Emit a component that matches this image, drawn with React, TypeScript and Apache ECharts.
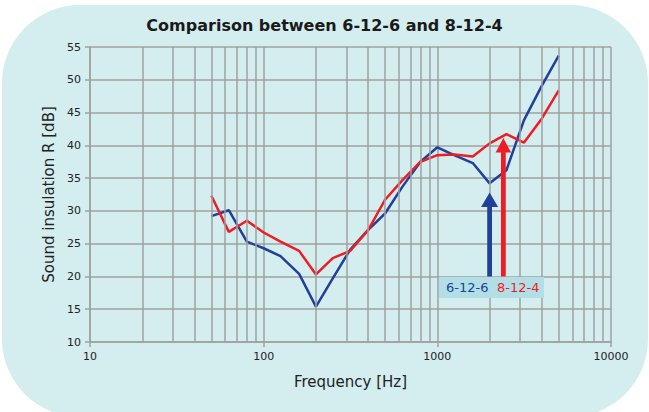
import React, { useEffect, useRef } from "react";
import * as echarts from "echarts";

const freqs = [50, 63, 80, 100, 125, 160, 200, 250, 315, 400, 500, 630, 800, 1000, 1250, 1600, 2000, 2500, 3150, 4000, 5000];
const r6126 = [29.2, 30.1, 25.3, 24.3, 23.1, 20.4, 15.4, 19.7, 24.1, 27.1, 29.6, 33.7, 37.5, 39.7, 38.5, 37.3, 34.2, 36.2, 43.8, 49.1, 53.7];
const r8124 = [32.3, 26.8, 28.5, 26.7, 25.3, 23.9, 20.3, 22.8, 23.9, 27.1, 31.7, 34.7, 37.5, 38.5, 38.6, 38.3, 40.3, 41.7, 40.4, 44.1, 48.4];
const minorFreqs = [20, 30, 40, 50, 60, 70, 80, 90, 200, 300, 400, 500, 600, 700, 800, 900, 2000, 3000, 4000, 5000, 6000, 7000, 8000, 9000];
const arrowFreqs = [2000, 2400];
const arrowFrom = [20, 20];
const arrowTo = [32.8, 41.1];
const seriesNames = ["6-12-6", "8-12-4"];

const BLUE = "#21409a";
const RED = "#ee1c25";
const GRID = "#a0a0a0";
const FONT = "DejaVu Sans";

export default function App() {
  const ref = useRef<HTMLDivElement>(null);
  useEffect(() => {
    document.body.style.margin = "0";
    const chart = echarts.init(ref.current!, null, { renderer: "svg" });
    const colors = [BLUE, RED];
    chart.setOption({
      animation: false,
      backgroundColor: "#ffffff",
      title: {
        text: "Comparison between 6-12-6 and 8-12-4",
        left: "center",
        top: 12,
        textStyle: { fontFamily: FONT, fontSize: 16, fontWeight: "bold", color: "#1a1a1a" },
      },
      graphic: [
        {
          type: "rect",
          z: -10,
          shape: { x: 2, y: 5, width: 646, height: 412, r: 78 },
          style: { fill: "#d4edef" },
        },
        {
          type: "rect",
          z: 100,
          shape: { x: 439, y: 277, width: 105, height: 21 },
          style: { fill: "#b1dfe5" },
        },
        {
          type: "text",
          z: 101,
          x: 446,
          y: 287.5,
          style: { text: seriesNames[0], fill: BLUE, font: `13px ${FONT}`, verticalAlign: "middle" },
        },
        {
          type: "text",
          z: 101,
          x: 497,
          y: 287.5,
          style: { text: seriesNames[1], fill: RED, font: `13px ${FONT}`, verticalAlign: "middle" },
        },
      ],
      grid: { left: 90, right: 38, top: 47, bottom: 70, show: false },
      xAxis: {
        type: "log",
        logBase: 10,
        min: 10,
        max: 10000,
        name: "Frequency [Hz]",
        nameLocation: "middle",
        nameGap: 32,
        nameTextStyle: { fontFamily: FONT, fontSize: 15, color: "#222" },
        axisLine: { show: true, lineStyle: { color: GRID, width: 1.5 } },
        axisTick: { show: true, length: 5, lineStyle: { color: GRID, width: 1.5 } },
        axisLabel: {
          fontFamily: FONT,
          fontSize: 11,
          color: "#222",
          margin: 9,
          formatter: (v: number) => String(Math.round(v)),
        },
        splitLine: { show: true, lineStyle: { color: GRID, width: 1.5 } },
      },
      yAxis: {
        type: "value",
        min: 10,
        max: 55,
        interval: 5,
        name: "Sound insulation R [dB]",
        nameLocation: "middle",
        nameGap: 34,
        nameTextStyle: { fontFamily: FONT, fontSize: 15, color: "#222" },
        axisLine: { show: true, lineStyle: { color: GRID, width: 1.5 } },
        axisTick: { show: true, length: 5, lineStyle: { color: GRID, width: 1.5 } },
        axisLabel: { fontFamily: FONT, fontSize: 11, color: "#222", margin: 9 },
        splitLine: { show: true, lineStyle: { color: GRID, width: 1.5 } },
      },
      series: [
        {
          type: "line",
          z: 1,
          silent: true,
          data: [],
          markLine: {
            silent: true,
            symbol: ["none", "none"],
            label: { show: false },
            lineStyle: { color: GRID, width: 1.5, type: "solid" },
            data: minorFreqs.map((f) => ({ xAxis: f })),
          },
        },
        {
          name: seriesNames[0],
          type: "line",
          z: 3,
          symbol: "none",
          data: freqs.map((f, i) => [f, r6126[i]]),
          lineStyle: { color: BLUE, width: 2.5 },
          itemStyle: { color: BLUE },
        },
        {
          name: seriesNames[1],
          type: "line",
          z: 4,
          symbol: "none",
          data: freqs.map((f, i) => [f, r8124[i]]),
          lineStyle: { color: RED, width: 2.5 },
          itemStyle: { color: RED },
        },
        {
          type: "custom",
          z: 5,
          silent: true,
          clip: false,
          encode: { x: 0, y: 1 },
          data: arrowFreqs.map((f, i) => [f, arrowFrom[i], arrowTo[i], i]),
          renderItem: (params: any, api: any) => {
            const f = api.value(0);
            const p0 = api.coord([f, api.value(1)]);
            const p1 = api.coord([f, api.value(2)]);
            const idx = api.value(3);
            const color = colors[idx];
            const headH = 14.5;
            const headW = idx === 0 ? 17 : 15.5;
            const shaftW = 4.8;
            const baseY = p1[1] + headH;
            return {
              type: "group",
              children: [
                {
                  type: "rect",
                  shape: { x: p0[0] - shaftW / 2, y: baseY - 1, width: shaftW, height: p0[1] - baseY + 1 },
                  style: { fill: color },
                },
                {
                  type: "polygon",
                  shape: {
                    points: [
                      [p1[0], p1[1]],
                      [p1[0] - headW / 2, baseY],
                      [p1[0] + headW / 2, baseY],
                    ],
                  },
                  style: { fill: color },
                },
              ],
            };
          },
        },
      ],
    });
    return () => chart.dispose();
  }, []);
  return <div ref={ref} style={{ width: 649, height: 412, position: "fixed", left: 0, top: 0 }} />;
}
